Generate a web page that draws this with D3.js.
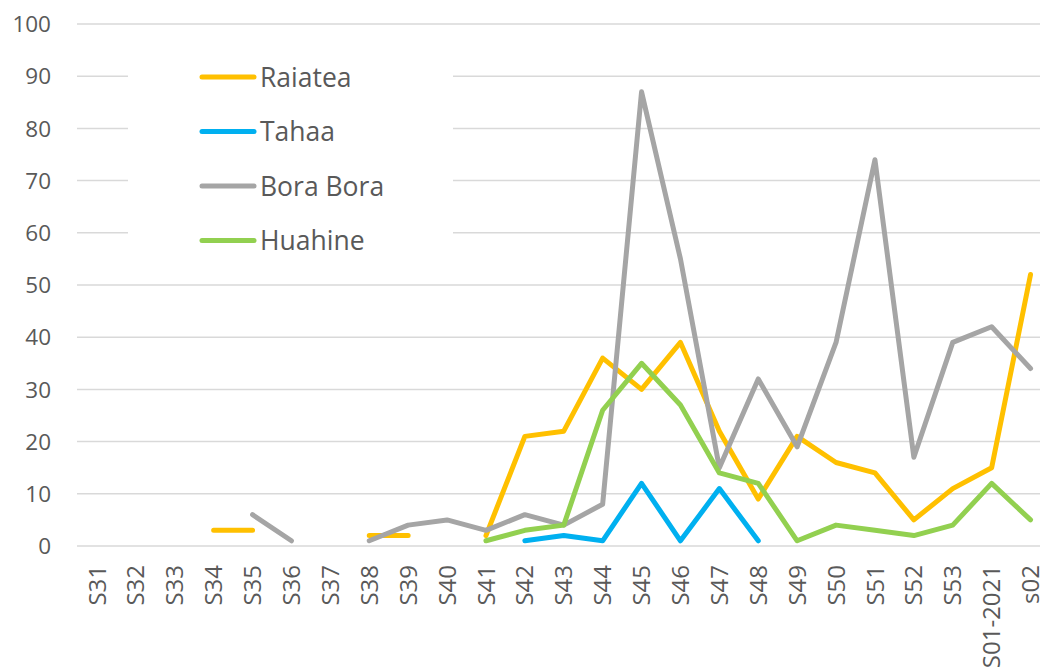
<!DOCTYPE html>
<html>
<head>
<meta charset="utf-8">
<script src="https://cdn.jsdelivr.net/npm/d3@7"></script>
<style>
  body { margin: 0; background: #fff; }
  svg { font-family: "Open Sans", "Noto Sans", sans-serif; }
</style>
</head>
<body>
<svg id="chart" width="1040" height="670"></svg>
<script>
// weeks on the x axis
const weeks = ["S31","S32","S33","S34","S35","S36","S37","S38","S39","S40","S41","S42","S43",
  "S44","S45","S46","S47","S48","S49","S50","S51","S52","S53","S01-2021","s02"];

// cases per week, null = no value
const raiatea  = [null,null,null,3,3,null,null,2,2,null,2,21,22,36,30,39,22,9,21,16,14,5,11,15,52];
const tahaa    = [null,null,null,null,null,null,null,null,null,null,null,1,2,1,12,1,11,1,null,null,null,null,null,null,null];
const boraBora = [null,null,null,null,6,1,null,1,4,5,3,6,4,8,87,55,15,32,19,39,74,17,39,42,34];
const huahine  = [null,null,null,null,null,null,null,null,null,null,1,3,4,26,35,27,14,12,1,4,3,2,4,12,5];

const yTicks = [0,10,20,30,40,50,60,70,80,90,100];

const series = [
  { name: "Raiatea",   values: raiatea,  color: "#FFC000" },
  { name: "Tahaa",     values: tahaa,    color: "#00B0F0" },
  { name: "Bora Bora", values: boraBora, color: "#A5A5A5" },
  { name: "Huahine",   values: huahine,  color: "#92D050" }
];

const svg = d3.select("#chart");

const x = d3.scaleBand().domain(weeks).range([77.5, 1050]);
const y = d3.scaleLinear().domain([0, 100]).range([546, 24]);
const cx = d => x(d) + x.bandwidth() / 2;

// gridlines + y labels
svg.append("g")
  .selectAll("line")
  .data(yTicks)
  .join("line")
  .attr("x1", 77).attr("x2", 1050)
  .attr("y1", d => y(d)).attr("y2", d => y(d))
  .attr("stroke", "#d9d9d9")
  .attr("stroke-width", 1.5);

svg.append("g")
  .selectAll("text")
  .data(yTicks)
  .join("text")
  .attr("x", 51)
  .attr("y", d => y(d))
  .attr("dy", "0.36em")
  .attr("text-anchor", "end")
  .attr("fill", "#595959")
  .style("font-size", "22.5px")
  .text(d => d);

// x labels, rotated
svg.append("g")
  .selectAll("text")
  .data(weeks)
  .join("text")
  .attr("transform", d => `translate(${cx(d)},565) rotate(-90)`)
  .attr("dy", "0.36em")
  .attr("text-anchor", "end")
  .attr("fill", "#595959")
  .style("font-size", "24px")
  .text(d => d);

// lines
const line = d3.line()
  .defined(d => d.v !== null)
  .x(d => cx(d.w))
  .y(d => y(d.v));

svg.append("g")
  .selectAll("path")
  .data(series)
  .join("path")
  .attr("d", s => line(s.values.map((v, i) => ({ w: weeks[i], v }))))
  .attr("fill", "none")
  .attr("stroke", s => s.color)
  .attr("stroke-width", 5)
  .attr("stroke-linecap", "round")
  .attr("stroke-linejoin", "round");

// legend with white box over the grid
const legend = svg.append("g");
legend.append("rect")
  .attr("x", 128).attr("y", 55)
  .attr("width", 325).attr("height", 210)
  .attr("fill", "#fff");

const row = legend.selectAll("g")
  .data(series)
  .join("g")
  .attr("transform", (d, i) => `translate(0,${77 + i * 54.5})`);

row.append("line")
  .attr("x1", 202).attr("x2", 254)
  .attr("stroke", d => d.color)
  .attr("stroke-width", 5)
  .attr("stroke-linecap", "round");

row.append("text")
  .attr("x", 260)
  .attr("dy", "0.36em")
  .attr("fill", "#595959")
  .style("font-size", "26.5px")
  .text(d => d.name);
</script>
</body>
</html>
